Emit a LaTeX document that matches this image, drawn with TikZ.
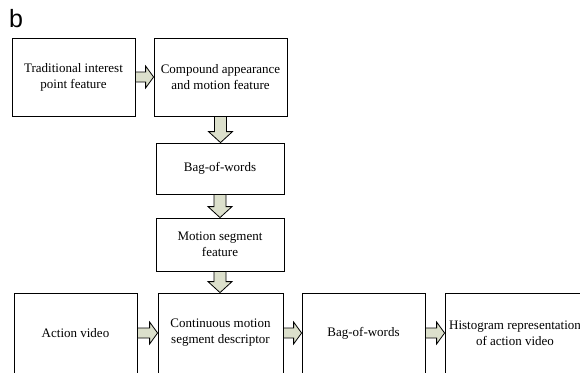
\documentclass[tikz,border=0pt]{standalone}
\usepackage{fontspec}
\setmainfont{Liberation Serif}
\newfontfamily\panelfont{Liberation Sans}
\usepackage{tikz}
\usetikzlibrary{calc}

\definecolor{arrowfill}{RGB}{220,224,204}

% block arrow to the right, from node #1 to node #2
\newcommand{\rarrow}[2]{%
    \draw[blockarrow]
        ($(#1.east)+(0,-5)$) -- ($(#1.east -| #2.west)+(-8,-5)$)
        -- ($(#1.east -| #2.west)+(-8,-11)$) -- (#1.east -| #2.west)
        -- ($(#1.east -| #2.west)+(-8,11)$) -- ($(#1.east -| #2.west)+(-8,5)$)
        -- ($(#1.east)+(0,5)$) -- cycle;}
% block arrow downwards, from node #1 to node #2
\newcommand{\darrow}[2]{%
    \draw[blockarrow]
        ($(#1.south)+(-6,0)$) -- ($(#1.south |- #2.north)+(-6,-11)$)
        -- ($(#1.south |- #2.north)+(-12,-11)$) -- (#1.south |- #2.north)
        -- ($(#1.south |- #2.north)+(12,-11)$) -- ($(#1.south |- #2.north)+(6,-11)$)
        -- ($(#1.south)+(6,0)$) -- cycle;}

\begin{document}
\begin{tikzpicture}[x=1pt, y=-1pt,
    box/.style={draw, line width=0.8pt, align=center, inner sep=2pt,
        font=\fontsize{13}{16}\selectfont},
    blockarrow/.style={draw, line width=0.8pt, fill=arrowfill, line join=miter}]
    \useasboundingbox (0,0) rectangle (580,372);
    \clip (0,0) rectangle (580,372);

    \node[anchor=base west, inner sep=0pt, font=\panelfont\fontsize{25}{25}\selectfont] (label) at (9,27) {b};

    % top row
    \node[box, minimum width=123pt, minimum height=78pt] (trad) at (73.5,77)
        {Traditional interest\\point feature};
    \node[box, minimum width=133pt, minimum height=78pt] (comp) at (220.5,77)
        {Compound appearance\\and motion feature};

    % middle column
    \node[box, minimum width=128pt, minimum height=51pt] (bow1) at (220,168.5)
        {Bag-of-words};
    \node[box, minimum width=128pt, minimum height=53pt] (mseg) at (220,244.5)
        {Motion segment\\feature};

    % bottom row
    \node[box, minimum width=123pt, minimum height=80pt] (video) at (75.5,333)
        {Action video};
    \node[box, minimum width=125pt, minimum height=80pt] (cmsd) at (220.5,333)
        {Continuous motion\\segment descriptor};
    \node[box, minimum width=123pt, minimum height=80pt] (bow2) at (363.5,333)
        {Bag-of-words};
    \node[box, minimum width=140pt, minimum height=80pt] (hist) at (515,333)
        {Histogram representation\\of action video};

    \rarrow{trad}{comp}
    \darrow{comp}{bow1}
    \darrow{bow1}{mseg}
    \darrow{mseg}{cmsd}
    \rarrow{video}{cmsd}
    \rarrow{cmsd}{bow2}
    \rarrow{bow2}{hist}
\end{tikzpicture}
\end{document}
